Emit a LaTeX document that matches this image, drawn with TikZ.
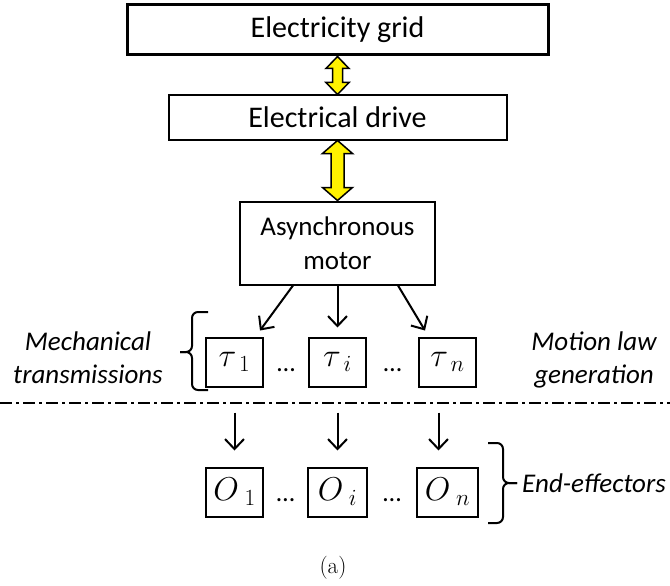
\RequirePackage{fix-cm}
\documentclass[tikz,border=0pt]{standalone}
\usepackage{fontspec}
\newfontfamily\calfont{Carlito}
\usetikzlibrary{arrows.meta,positioning,calc}

\begin{document}
\begin{tikzpicture}[x=1pt, y=-1pt,
  bx/.style={draw, line width=2pt, inner sep=0pt, align=center,
             font=\calfont\fontsize{30}{34}\selectfont},
  sq/.style={draw, line width=2pt, inner sep=0pt, minimum width=57pt,
             minimum height=49pt, font=\fontsize{33}{36}\selectfont},
  lbl/.style={inner sep=0pt, align=center,
              font=\calfont\itshape\fontsize{27}{33}\selectfont},
  dts/.style={inner sep=0pt, font=\calfont\fontsize{26}{30}\selectfont},
  ar/.style={-{Straight Barb[length=10pt,width=19pt]}, line width=2pt},
  yar/.style={draw, line width=1.5pt, fill=yellow, line join=miter},
  brc/.style={line width=2pt, rounded corners=6pt},
  node distance=38pt
]
  \useasboundingbox (0,0) rectangle (670,586);

  % power chain
  \node[bx, line width=3pt, minimum width=421pt, minimum height=50pt]
    (grid) at (337.5,30) {Electricity grid};
  \node[bx, minimum width=338pt, minimum height=44pt, below=38pt of grid]
    (drive) {Electrical drive};
  \node[bx, font=\calfont\fontsize{27}{34}\selectfont, minimum width=195pt,
        minimum height=83pt, below=60pt of drive] (motor) {Asynchronous\\motor};

  \draw[yar] (grid.south) -- ++(11.5,12) -- ++(-6.5,0) -- ++(0,14) -- ++(6.5,0)
    -- ++(-11.5,12) -- ++(-11.5,-12) -- ++(6.5,0) -- ++(0,-14) -- ++(-6.5,0) -- cycle;
  \draw[yar] (drive.south) -- ++(15,13) -- ++(-8.5,0) -- ++(0,34) -- ++(8.5,0)
    -- ++(-15,13) -- ++(-15,-13) -- ++(8.5,0) -- ++(0,-34) -- ++(-8.5,0) -- cycle;

  % transmissions
  \node[sq, below=51pt of motor] (ti) {$\tau_{\;i}$};
  \node[sq, left=44pt of ti] (t1) {$\tau_{\;1}$};
  \node[sq, right=51pt of ti] (tn) {$\tau_{\;n}$};
  \node[dts] (d1) at ($(t1.east)!0.5!(ti.west)+(0,8)$) {…};
  \node[dts] (d2) at ($(ti.east)!0.5!(tn.west)+(0,8)$) {…};

  \draw[ar] ([xshift=-44.5pt]motor.south) -- ([xshift=25.5pt,yshift=6pt]t1.north);
  \draw[ar] (motor.south) -- ([yshift=9pt]ti.north);
  \draw[ar] ([xshift=60.5pt]motor.south) -- ([xshift=-22.5pt,yshift=6pt]tn.north);

  % end-effectors
  \node[sq, minimum width=59pt, below=79pt of ti] (oi) {$O_{\;i}$};
  \node[sq, below=79pt of t1] (o1) {$O_{\;1}$};
  \node[sq, minimum width=61pt, below=79pt of tn] (on) {$O_{\;n}$};
  \node[dts] (d3) at ($(o1.east)!0.5!(oi.west)+(0,8)$) {…};
  \node[dts] (d4) at ($(oi.east)!0.5!(on.west)+(0,8)$) {…};

  \draw[ar] ([yshift=-25pt]t1.south) -- ([yshift=16pt]o1.north);
  \draw[ar] ([yshift=-25pt]ti.south) -- ([yshift=16pt]oi.north);
  \draw[ar] ([xshift=-9pt,yshift=-25pt]tn.south) -- ([xshift=-9pt,yshift=16pt]on.north);

  \draw[line width=1.3pt, dash pattern=on 12pt off 4pt on 3pt off 4pt]
    (0,403) -- (670,403);

  % braces and labels
  \coordinate (lb) at (180,352);
  \coordinate (rb) at (517,483);
  \draw[brc] (208,312) -- (192,312) -- (192,352) -- (lb);
  \draw[brc] (208,390) -- (192,390) -- (192,352) -- (lb);
  \draw[brc] (488,443) -- (503,443) -- (503,483) -- (rb);
  \draw[brc] (488,523) -- (503,523) -- (503,483) -- (rb);

  \node[lbl, left=17pt of lb, yshift=-6pt] (mech) {Mechanical\\transmissions};
  \node[lbl] (law) at (594,360) {Motion law\\generation};
  \node[lbl, right=5pt of rb] (ee) {End-effectors};
  \node[inner sep=0pt, font=\fontsize{23}{27}\selectfont] (cap) at (333,568) {(a)};
\end{tikzpicture}
\end{document}
